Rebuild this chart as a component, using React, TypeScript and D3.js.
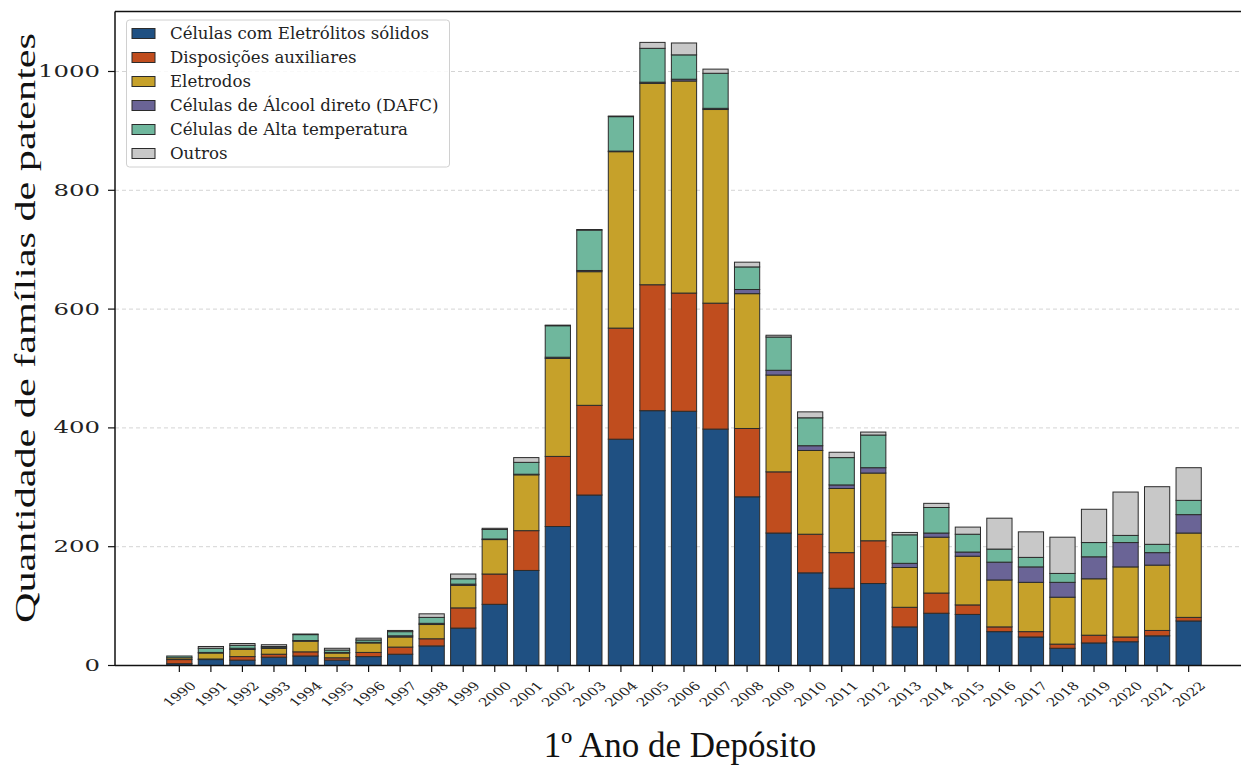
import React from "react";
import * as d3 from "d3";

const years = [1990,1991,1992,1993,1994,1995,1996,1997,1998,1999,2000,2001,2002,2003,2004,2005,2006,2007,2008,2009,2010,2011,2012,2013,2014,2015,2016,2017,2018,2019,2020,2021,2022];

const solidos = [3,10,9,14,16,9,15,19,33,63,103,160,234,287,381,429,428,398,284,223,156,130,138,65,88,86,57,48,29,38,40,50,75];
const auxiliares = [7,1,6,5,7,4,7,12,12,34,51,67,118,151,187,212,199,212,115,103,65,60,72,33,34,16,8,9,7,13,8,9,6];
const eletrodos = [3,10,12,10,18,8,16,17,24,38,58,94,165,225,297,339,357,326,227,163,141,108,114,67,94,82,79,83,79,95,118,110,142];
const dafc = [0,1,2,1,1,1,1,2,2,2,1,1,2,2,1,2,3,2,7,8,8,6,9,7,7,7,30,26,25,37,41,21,31];
const altaTemp = [3,7,5,2,10,4,4,7,10,9,16,20,53,68,58,57,41,59,38,56,47,46,55,48,43,30,22,16,15,24,12,14,24];
const outros = [0,3,3,3,1,3,3,2,6,8,2,8,1,1,1,10,20,7,8,3,10,9,5,4,7,12,52,43,61,56,73,97,55];

const seriesNames = [
  "Células com Eletrólitos sólidos",
  "Disposições auxiliares",
  "Eletrodos",
  "Células de Álcool direto (DAFC)",
  "Células de Alta temperatura",
  "Outros",
];
const seriesValues = [solidos, auxiliares, eletrodos, dafc, altaTemp, outros];
const colors = ["#1f5082", "#c04d1e", "#c6a12a", "#6a6496", "#6fb79d", "#c8c8c8"];
const yTicks = [0, 200, 400, 600, 800, 1000];

const W = 1241;
const H = 765;

export default function App() {
  const x = d3.scaleLinear().domain([-2.04, 34.04]).range([115, 1253]);
  const y = d3.scaleLinear().domain([0, 1101]).range([665.5, 11.5]);
  const step = x(1) - x(0);
  const bw = step * 0.8;

  const rows = years.map((yr, i) => {
    const r: any = { year: yr };
    seriesNames.forEach((n, k) => (r[n] = seriesValues[k][i]));
    return r;
  });
  const stacked = d3.stack().keys(seriesNames)(rows);

  const serif = "'DejaVu Serif', serif";
  const labelFont = "'Liberation Serif', serif";

  return (
    <svg width={W} height={H} style={{ position: "absolute", left: 0, top: 0, background: "#fff" }}>
      <rect x={0} y={0} width={W} height={H} fill="#fff" />
      {/* gridlines */}
      {yTicks.filter((t) => t > 0).map((t) => (
        <line key={"g" + t} x1={115} x2={W} y1={y(t)} y2={y(t)} stroke="#d4d4d4" strokeWidth={1} strokeDasharray="4,3" />
      ))}
      {/* bars */}
      {stacked.map((layer, k) => (
        <g key={"s" + k}>
          {layer.map((d, i) => {
            const h = y(d[0]) - y(d[1]);
            return (
              <rect
                key={i}
                x={x(i) - bw / 2}
                y={y(d[1])}
                width={bw}
                height={Math.max(h, 0)}
                fill={colors[k]}
                stroke="#2b2b2b"
                strokeWidth={1}
              />
            );
          })}
        </g>
      ))}
      {/* spines */}
      <line x1={115} x2={W} y1={11.5} y2={11.5} stroke="#111" strokeWidth={1.5} />
      <line x1={115} x2={115} y1={11.5} y2={665.5} stroke="#111" strokeWidth={1.5} />
      <line x1={115} x2={W} y1={665.5} y2={665.5} stroke="#111" strokeWidth={1.5} />
      {/* y ticks */}
      {yTicks.map((t) => {
        const s = String(t);
        return (
          <g key={"yt" + t}>
            <line x1={108} x2={115} y1={y(t)} y2={y(t)} stroke="#111" strokeWidth={1.2} />
            <text
              x={100}
              y={y(t)}
              textAnchor="end"
              dominantBaseline="central"
              fontFamily={serif}
              fontSize={16}
              fill="#222"
              textLength={s.length * 15.5}
              lengthAdjust="spacingAndGlyphs"
            >
              {s}
            </text>
          </g>
        );
      })}
      {/* x ticks */}
      {years.map((yr, i) => (
        <g key={"xt" + yr}>
          <line x1={x(i)} x2={x(i)} y1={665.5} y2={672} stroke="#111" strokeWidth={1.2} />
          <g transform={`translate(${x(i)},${694}) scale(1.33,1) rotate(-45)`}>
            <text textAnchor="middle" dominantBaseline="central" fontFamily={serif} fontSize={11.5} fill="#222">
              {yr}
            </text>
          </g>
        </g>
      ))}
      {/* axis labels */}
      <text x={680} y={757} textAnchor="middle" fontFamily={labelFont} fontSize={35} fill="#111">
        1º Ano de Depósito
      </text>
      <text
        transform={`translate(35,328) rotate(-90)`}
        textAnchor="middle"
        fontFamily={labelFont}
        fontSize={30}
        fill="#111"
        textLength={590}
        lengthAdjust="spacingAndGlyphs"
      >
        Quantidade de famílias de patentes
      </text>
      {/* legend */}
      <rect x={126.5} y={20} width={323} height={147} rx={3} fill="#fff" fillOpacity={0.85} stroke="#d0d0d0" strokeWidth={1} />
      {seriesNames.map((n, k) => {
        const cy = 33.5 + k * 24;
        return (
          <g key={"l" + k}>
            <rect x={132} y={cy - 5} width={23} height={10} fill={colors[k]} stroke="#2b2b2b" strokeWidth={1} />
            <text x={170} y={cy} dominantBaseline="central" fontFamily={serif} fontSize={16.6} fill="#222">
              {n}
            </text>
          </g>
        );
      })}
    </svg>
  );
}
